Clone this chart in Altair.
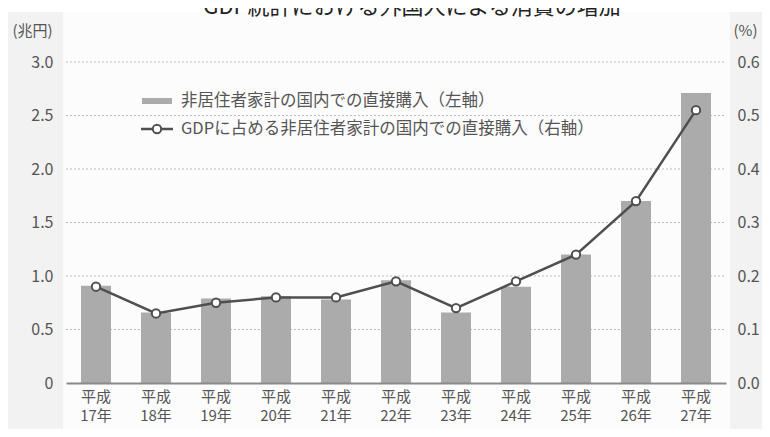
import altair as alt
import pandas as pd

# ---- data ----
years = ["平成17年", "平成18年", "平成19年", "平成20年", "平成21年", "平成22年",
         "平成23年", "平成24年", "平成25年", "平成26年", "平成27年"]
spending = [0.91, 0.66, 0.79, 0.81, 0.78, 0.96, 0.66, 0.90, 1.20, 1.70, 2.71]   # 兆円 (left)
share = [0.18, 0.13, 0.15, 0.16, 0.16, 0.19, 0.14, 0.19, 0.24, 0.34, 0.51]       # % (right)
left_ticks = [0, 0.5, 1.0, 1.5, 2.0, 2.5, 3.0]
right_ticks = [0, 0.1, 0.2, 0.3, 0.4, 0.5, 0.6]
grid_values = [0.5, 1.0, 1.5, 2.0, 2.5, 3.0]

title_text = "GDP統計における外国人による消費の増加"
legend_bar = "非居住者家計の国内での直接購入（左軸）"
legend_line = "GDPに占める非居住者家計の国内での直接購入（右軸）"

df = pd.DataFrame({"year": years, "spending": spending, "share": share})
grid_df = pd.DataFrame({"v": grid_values})
one = pd.DataFrame({"k": [0]})

W, H = 660, 321
FONT = "Noto Sans CJK JP"
TXT = "#555555"
BAR = "#ababab"
LINE = "#4f4f4f"

xenc = alt.X(
    "year:N", sort=years,
    scale=alt.Scale(paddingInner=0.5, paddingOuter=0.25),
    axis=alt.Axis(
        title=None, labelAngle=0,
        labelExpr="[substring(datum.label,0,2), substring(datum.label,2)]",
        labelFont=FONT, labelFontSize=15, labelColor=TXT, labelPadding=6,
        labelLineHeight=19.5, ticks=False, domainColor="#8a8a8a", domainWidth=2,
        grid=False, zindex=1,
    ),
)

top_band = alt.Chart(one).mark_rect(color="white").encode(
    x=alt.value(-58), x2=alt.value(W + 40), y=alt.value(-54), y2=alt.value(-50)
)
panel = alt.Chart(one).mark_rect(color="#fcfcfc").encode(
    x=alt.value(-3), x2=alt.value(W + 4), y=alt.value(-50), y2=alt.value(H + 60)
)
title = alt.Chart(one).mark_text(
    text=title_text, font=FONT, fontSize=22, color="#222222",
    align="center", baseline="alphabetic"
).encode(x=alt.value(346), y=alt.value(-48))

grid = alt.Chart(grid_df).mark_rule(
    color="#bdbdbd", strokeDash=[2, 2], strokeWidth=1
).encode(
    y=alt.Y("v:Q", scale=alt.Scale(domain=[0, 3], nice=False), axis=None),
    x=alt.value(0), x2=alt.value(W),
)

bars = alt.Chart(df).mark_bar(color=BAR).encode(
    x=xenc,
    y=alt.Y(
        "spending:Q", scale=alt.Scale(domain=[0, 3], nice=False),
        axis=alt.Axis(
            title="(兆円)", values=left_ticks,
            labelExpr="datum.value == 0 ? '0' : format(datum.value, '.1f')",
            labelFont=FONT, labelFontSize=16, labelColor=TXT, labelPadding=13,
            ticks=False, domain=False, grid=False, zindex=1,
            titleAngle=0, titleX=-54, titleY=-32, titleAlign="left",
            titleBaseline="middle", titleFont=FONT, titleFontSize=15,
            titleFontWeight="normal", titleColor=TXT,
        ),
    ),
)

line = alt.Chart(df).mark_line(
    color=LINE, strokeWidth=2.5,
    point=alt.OverlayMarkDef(filled=True, fill="white", stroke=LINE,
                             strokeWidth=2, size=70, opacity=1),
).encode(
    x=xenc,
    y=alt.Y(
        "share:Q", scale=alt.Scale(domain=[0, 0.6], nice=False),
        axis=alt.Axis(
            orient="right", title="(%)", values=right_ticks, format=".1f",
            labelFont=FONT, labelFontSize=16, labelColor=TXT, labelPadding=11,
            ticks=False, domain=False, grid=False, zindex=1,
            titleAngle=0, titleX=7, titleY=-32, titleAlign="left",
            titleBaseline="middle", titleFont=FONT, titleFontSize=15,
            titleFontWeight="normal", titleColor=TXT,
        ),
    ),
)

# ---- legend ----
leg_bar = alt.Chart(one).mark_rect(color=BAR).encode(
    x=alt.value(76), x2=alt.value(106), y=alt.value(36), y2=alt.value(42)
)
leg_rule = alt.Chart(one).mark_rule(color=LINE, strokeWidth=2.5).encode(
    x=alt.value(75), x2=alt.value(107), y=alt.value(67)
)
leg_pt = alt.Chart(one).mark_point(
    filled=True, fill="white", stroke=LINE, strokeWidth=2, size=70, opacity=1
).encode(x=alt.value(91), y=alt.value(67))
leg_t1 = alt.Chart(one).mark_text(
    text=legend_bar, font=FONT, fontSize=16.5, color=TXT, align="left", baseline="middle"
).encode(x=alt.value(115), y=alt.value(39))
leg_t2 = alt.Chart(one).mark_text(
    text=legend_line, font=FONT, fontSize=16.5, color=TXT, align="left", baseline="middle"
).encode(x=alt.value(115), y=alt.value(67))

chart = alt.layer(
    top_band, panel, title, grid, bars, line, leg_bar, leg_rule, leg_pt, leg_t1, leg_t2
).resolve_scale(y="independent").properties(
    width=W, height=H,
    autosize=alt.AutoSizeParams(type="none"),
    padding={"left": 58, "top": 54, "right": 36, "bottom": 46},
    background="#f2f2f2",
).configure_view(stroke=None, fill=None)

chart.save("out.html", embed_options={"renderer": "svg", "actions": False})
